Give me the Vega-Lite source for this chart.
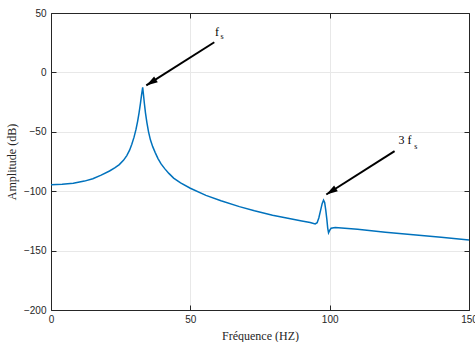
{
  "$schema": "https://vega.github.io/schema/vega-lite/v6.json",
  "width": 418,
  "height": 297,
  "autosize": "none",
  "padding": {"left": 51, "top": 13, "right": 6, "bottom": 32},
  "background": "white",
  "config": {
    "view": {"stroke": null},
    "axis": {
      "domainColor": "#262626",
      "domainWidth": 1,
      "tickColor": "#262626",
      "tickSize": -5,
      "labelFont": "Liberation Sans",
      "labelFontSize": 10,
      "labelColor": "#262626",
      "labelFlush": false,
      "labelOverlap": false,
      "titleFont": "Liberation Serif",
      "titleFontSize": 12,
      "titleFontWeight": "normal",
      "titleColor": "#262626",
      "gridColor": "#e8e8e8",
      "gridWidth": 1
    }
  },
  "datasets": {
    "curve": [
      {"f": 0, "db": -94.5}, {"f": 4, "db": -94.2}, {"f": 8, "db": -93.3}, {"f": 12, "db": -91.5},
      {"f": 15, "db": -89.5}, {"f": 18, "db": -86.5}, {"f": 21, "db": -83}, {"f": 23, "db": -80.2},
      {"f": 24.5, "db": -77.6}, {"f": 26, "db": -74}, {"f": 27.2, "db": -70}, {"f": 28.2, "db": -65.5},
      {"f": 29, "db": -60.5}, {"f": 29.8, "db": -54.5}, {"f": 30.5, "db": -48}, {"f": 31.1, "db": -41},
      {"f": 31.6, "db": -34}, {"f": 32.1, "db": -26}, {"f": 32.5, "db": -19}, {"f": 32.9, "db": -12.5},
      {"f": 33.2, "db": -19}, {"f": 33.5, "db": -26}, {"f": 33.9, "db": -34}, {"f": 34.4, "db": -42},
      {"f": 35.0, "db": -50}, {"f": 35.7, "db": -57}, {"f": 36.5, "db": -62.5}, {"f": 37.4, "db": -67.5},
      {"f": 38.4, "db": -72.5}, {"f": 39.5, "db": -77}, {"f": 40.8, "db": -81}, {"f": 42.3, "db": -85},
      {"f": 44, "db": -89}, {"f": 46.5, "db": -93}, {"f": 50, "db": -97.5}, {"f": 55.6, "db": -103.5},
      {"f": 61, "db": -108}, {"f": 67.6, "db": -113}, {"f": 73, "db": -116.5}, {"f": 79.5, "db": -120.2},
      {"f": 85, "db": -122.8}, {"f": 90, "db": -125}, {"f": 93, "db": -126.3}, {"f": 94.8, "db": -127.6},
      {"f": 95.5, "db": -126.5}, {"f": 96.1, "db": -122.5}, {"f": 96.7, "db": -116.5}, {"f": 97.3, "db": -110.5},
      {"f": 97.8, "db": -107.5}, {"f": 98.2, "db": -109.5}, {"f": 98.6, "db": -116}, {"f": 99.0, "db": -124},
      {"f": 99.3, "db": -131}, {"f": 99.6, "db": -135}, {"f": 100, "db": -133}, {"f": 100.5, "db": -131.2},
      {"f": 102, "db": -130.6}, {"f": 110, "db": -132}, {"f": 120, "db": -134.5}, {"f": 130, "db": -136.7},
      {"f": 140, "db": -138.8}, {"f": 150, "db": -141}
    ],
    "arrows": [
      {"f1": 58.6, "d1": 25.4, "f2": 34.2, "d2": -11.0},
      {"f1": 123.3, "d1": -66.3, "f2": 98.8, "d2": -102.8}
    ],
    "labels": [
      {"f": 59.6, "db": 33.6, "t": "f"},
      {"f": 127.0, "db": -57.3, "t": "3 f"}
    ],
    "subs": [
      {"f": 61.4, "db": 30.0, "t": "s"},
      {"f": 130.9, "db": -62.6, "t": "s"}
    ]
  },
  "layer": [
    {
      "data": {"name": "curve"},
      "mark": {"type": "line", "color": "#0072BD", "strokeWidth": 1.5, "interpolate": "linear"},
      "encoding": {
        "x": {
          "field": "f", "type": "quantitative",
          "scale": {"domain": [0, 150], "nice": false, "zero": false},
          "axis": {"orient": "bottom", "values": [0, 50, 100, 150], "title": "Fréquence (HZ)", "labelPadding": 9, "titlePadding": 6, "grid": true}
        },
        "y": {
          "field": "db", "type": "quantitative",
          "scale": {"domain": [-200, 50], "nice": false, "zero": false},
          "axis": {"orient": "left", "values": [-200, -150, -100, -50, 0, 50], "title": "Amplitude (dB)", "labelPadding": 10, "titlePadding": 5, "grid": true}
        }
      }
    },
    {
      "data": {"name": "arrows"},
      "mark": {"type": "rule", "color": "black", "strokeWidth": 2},
      "encoding": {
        "x": {"field": "f1", "type": "quantitative",
          "axis": {"orient": "top", "values": [0, 50, 100, 150], "labels": false, "title": null, "grid": false}},
        "y": {"field": "d1", "type": "quantitative",
          "axis": {"orient": "right", "values": [-200, -150, -100, -50, 0, 50], "labels": false, "title": null, "grid": false}},
        "x2": {"field": "f2"},
        "y2": {"field": "d2"}
      }
    },
    {
      "data": {"name": "arrows"},
      "mark": {"type": "point", "shape": "M0,0 L-0.6,2 L0.6,2 Z", "filled": true, "color": "black", "opacity": 1, "size": 130, "angle": 237.6},
      "encoding": {
        "x": {"field": "f2", "type": "quantitative", "axis": null},
        "y": {"field": "d2", "type": "quantitative", "axis": null}
      }
    },
    {
      "data": {"name": "labels"},
      "mark": {"type": "text", "font": "Liberation Serif", "fontSize": 12, "color": "black", "align": "center", "baseline": "middle"},
      "encoding": {
        "x": {"field": "f", "type": "quantitative", "axis": null},
        "y": {"field": "db", "type": "quantitative", "axis": null},
        "text": {"field": "t"}
      }
    },
    {
      "data": {"name": "subs"},
      "mark": {"type": "text", "font": "Liberation Serif", "fontSize": 8, "color": "black", "align": "center", "baseline": "middle"},
      "encoding": {
        "x": {"field": "f", "type": "quantitative", "axis": null},
        "y": {"field": "db", "type": "quantitative", "axis": null},
        "text": {"field": "t"}
      }
    }
  ]
}
